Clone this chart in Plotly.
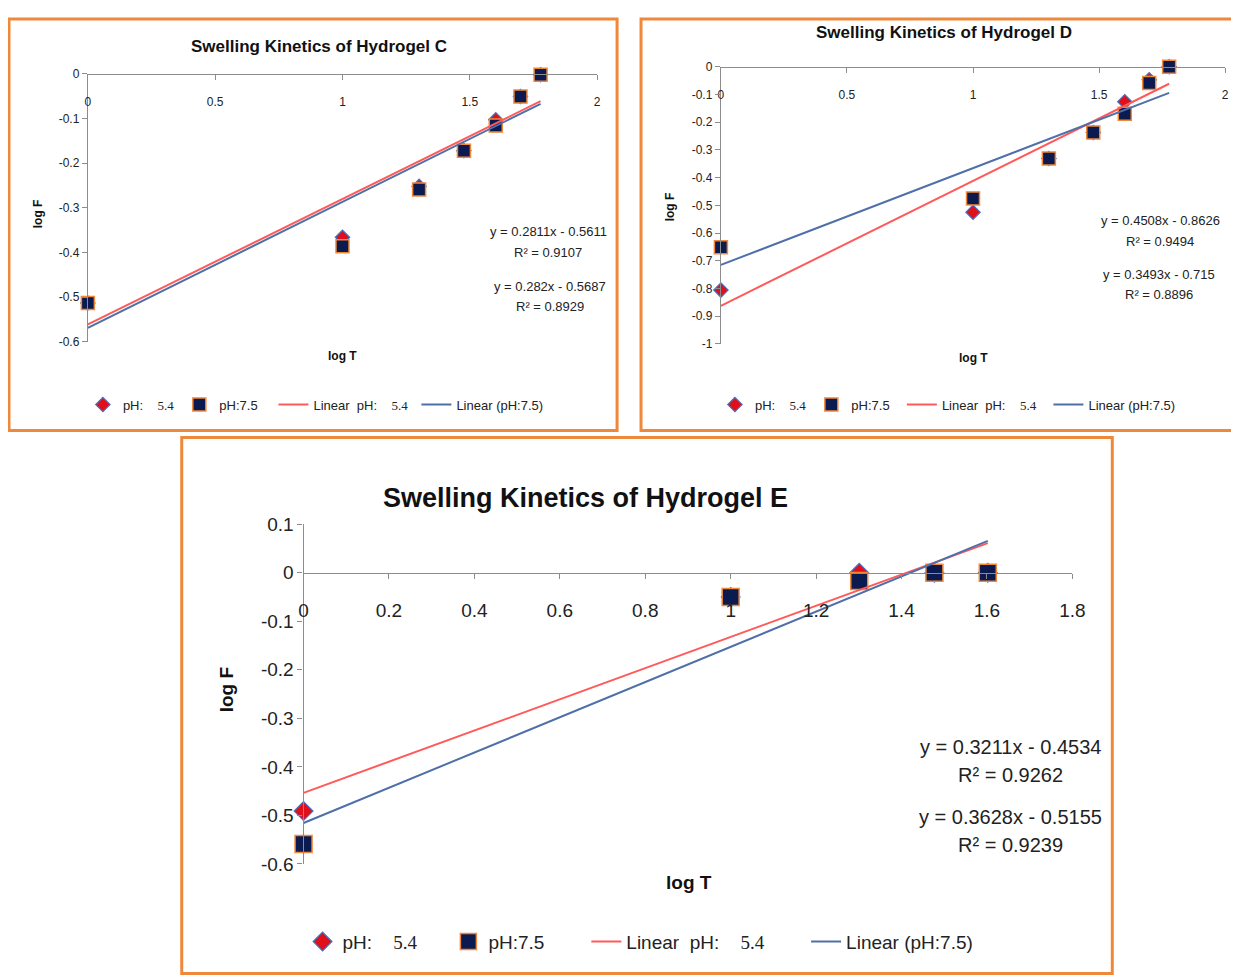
import plotly.graph_objects as go

W, H = 1239, 978
# empirical placement of the figure inside the photographed page
OX, OY, SX, SY = 12.0, 16.0, 0.987, 0.982

# ---------------- data ----------------
# Hydrogel C
c_x = [0, 1, 1.301, 1.477, 1.602, 1.699, 1.778]
c_ph54 = [-0.513, -0.366, -0.252, -0.172, -0.103, -0.051, -0.002]
c_ph75 = [-0.513, -0.386, -0.259, -0.172, -0.116, -0.051, -0.002]
c_fit54 = (0.2811, -0.5611, 0.9107)
c_fit75 = (0.282, -0.5687, 0.8929)
c_xticks = [0, 0.5, 1, 1.5, 2]
c_yticks = [0, -0.1, -0.2, -0.3, -0.4, -0.5, -0.6]

# Hydrogel D
d_x = [0, 1, 1.301, 1.477, 1.602, 1.699, 1.778]
d_ph54 = [-0.806, -0.525, -0.331, -0.237, -0.126, -0.047, 0.0]
d_ph75 = [-0.651, -0.475, -0.331, -0.237, -0.169, -0.058, 0.0]
d_fit54 = (0.4508, -0.8626, 0.9494)
d_fit75 = (0.3493, -0.715, 0.8896)
d_xticks = [0, 0.5, 1, 1.5, 2]
d_yticks = [0, -0.1, -0.2, -0.3, -0.4, -0.5, -0.6, -0.7, -0.8, -0.9, -1]

# Hydrogel E
e_x = [0, 1, 1.301, 1.477, 1.602]
e_ph54 = [-0.491, -0.05, 0.0, 0.0, 0.0]
e_ph75 = [-0.559, -0.05, -0.017, 0.0, 0.0]
e_fit54 = (0.3211, -0.4534, 0.9262)
e_fit75 = (0.3628, -0.5155, 0.9239)
e_xticks = [0, 0.2, 0.4, 0.6, 0.8, 1, 1.2, 1.4, 1.6, 1.8]
e_yticks = [0.1, 0, -0.1, -0.2, -0.3, -0.4, -0.5, -0.6]

FONT = "Liberation Sans Narrow, Liberation Sans, Arial, sans-serif"
SERIF = "Liberation Serif"
RED = "#ff5a5a"
BLUE = "#4f6fa8"
NAVY = "#0b1a4f"
ORANGE = "#f0883a"
AX = "#8c8c8c"


def px(x):
    return ((x - OX) / SX) / W


def py(y):
    return 1 - ((y - OY) / SY) / H


def fmt(v):
    return "%g" % v


SP = "&nbsp;"
NAME54 = "pH:" + SP * 4 + "<span style=\"font-family:%s\">5.4</span>" % SERIF
NAME75 = "pH:7.5"
LIN54 = "Linear" + SP * 2 + "pH:" + SP * 4 + "<span style=\"font-family:%s\">5.4</span>" % SERIF
LIN75 = "Linear (pH:7.5)"

fig = go.Figure()

panels = [
    dict(xs=c_x, a=c_ph54, b=c_ph75, fa=c_fit54, fb=c_fit75,
         xd=(87, 597), yd=(341, 72), xr=[0, 2], yr=[-0.6, 0],
         xt=c_xticks, yt=c_yticks,
         title="Swelling Kinetics of Hydrogel C", title_xy=(318, 45), tsize=17,
         tick=12, ms=13, legy=404, legx=82, lfont=13, pad=[0, 3, 1],
         eq=[(548, 230), (548, 251), (550, 285), (550, 306)], eqsize=13,
         ylab=(37, 212), xlab=(342, 355), labsize=12, stand=12),
    dict(xs=d_x, a=d_ph54, b=d_ph75, fa=d_fit54, fb=d_fit75,
         xd=(721, 1226), yd=(343, 65), xr=[0, 2], yr=[-1, 0],
         xt=d_xticks, yt=d_yticks,
         title="Swelling Kinetics of Hydrogel D", title_xy=(944, 31), tsize=17,
         tick=12, ms=13, legy=404, legx=715, lfont=13, pad=[0, 2, 2],
         eq=[(1161, 219), (1161, 240), (1160, 273), (1160, 293)], eqsize=13,
         ylab=(670, 205), xlab=(974, 357), labsize=12, stand=12),
    dict(xs=e_x, a=e_ph54, b=e_ph75, fa=e_fit54, fb=e_fit75,
         xd=(303, 1073), yd=(865, 524), xr=[0, 1.8], yr=[-0.6, 0.1],
         xt=e_xticks, yt=e_yticks,
         title="Swelling Kinetics of Hydrogel E", title_xy=(585, 498), tsize=27,
         tick=19, ms=17, legy=943, legx=302, lfont=19, pad=[5, 7, 7],
         eq=[(1011, 748), (1011, 776), (1011, 818), (1011, 846)], eqsize=20,
         ylab=(226, 690), xlab=(689, 884), labsize=19, stand=15),
]

shapes = []
annotations = []
boxes = [(8, 17, 617, 430), (641, 17, 1250, 430), (181, 437, 1113, 975)]
for (x0, y0, x1, y1) in boxes:
    shapes.append(dict(type="rect", xref="paper", yref="paper",
                       x0=px(x0), x1=px(x1), y0=py(y1), y1=py(y0),
                       line=dict(color=ORANGE, width=3), layer="below"))

for i, p in enumerate(panels):
    k = "" if i == 0 else str(i + 1)
    xa = "x" + k
    ya = "y" + k
    leg = "legend" + k
    xdom = [px(p["xd"][0]), px(p["xd"][1])]
    ydom = [py(p["yd"][0]), py(p["yd"][1])]
    frac0 = (0 - p["yr"][0]) / (p["yr"][1] - p["yr"][0])
    zero_pos = ydom[0] + frac0 * (ydom[1] - ydom[0])
    pad = p["pad"]

    fig.add_trace(go.Scatter(
        x=p["xs"], y=p["a"], mode="markers", xaxis=xa, yaxis=ya, legend=leg,
        name=NAME54 + SP * pad[0],
        marker=dict(symbol="diamond", size=p["ms"] * 0.85, color="#e0101a",
                    line=dict(color="#4a6fc0", width=1.2)),
        cliponaxis=False))
    fig.add_trace(go.Scatter(
        x=p["xs"], y=p["b"], mode="markers", xaxis=xa, yaxis=ya, legend=leg,
        name=NAME75 + SP * pad[1],
        marker=dict(symbol="square", size=p["ms"], color=NAVY,
                    line=dict(color=ORANGE, width=1.5)),
        cliponaxis=False))
    xmax = max(p["xs"])
    for fit, col, nm in [(p["fa"], RED, LIN54 + SP * pad[2]), (p["fb"], BLUE, LIN75)]:
        m, c, _ = fit
        lx = [0, xmax]
        ly = [m * v + c for v in lx]
        fig.add_trace(go.Scatter(
            x=lx, y=ly, mode="lines", xaxis=xa, yaxis=ya, legend=leg, name=nm,
            line=dict(color=col, width=2), cliponaxis=False))

    fig.update_layout(**{
        "xaxis" + k: dict(domain=xdom, range=p["xr"],
                          tickvals=p["xt"], ticktext=[fmt(v) for v in p["xt"]],
                          anchor="free", position=zero_pos, side="bottom",
                          showgrid=False, zeroline=False, showline=True,
                          linecolor=AX, linewidth=1.2, ticks="outside",
                          ticklen=5, tickcolor=AX,
                          ticklabelstandoff=p["stand"],
                          tickfont=dict(size=p["tick"], color="#222", family=FONT)),
        "yaxis" + k: dict(domain=ydom, range=p["yr"],
                          tickvals=p["yt"], ticktext=[fmt(v) for v in p["yt"]],
                          anchor=xa, showgrid=False, zeroline=False, showline=True,
                          linecolor=AX, linewidth=1.2, ticks="outside",
                          ticklen=5, tickcolor=AX,
                          tickfont=dict(size=p["tick"], color="#222", family=FONT)),
        leg: dict(orientation="h", x=px(p["legx"]), y=py(p["legy"]),
                  xanchor="left", yanchor="middle", bgcolor="rgba(0,0,0,0)",
                  font=dict(size=p["lfont"], color="#222", family=FONT),
                  itemwidth=30, traceorder="normal"),
    })

    annotations.append(dict(text="<b>" + p["title"] + "</b>", xref="paper", yref="paper",
                            x=px(p["title_xy"][0]), y=py(p["title_xy"][1]),
                            showarrow=False, xanchor="center", yanchor="middle",
                            font=dict(size=p["tsize"], color="#111", family=FONT)))
    annotations.append(dict(text="<b>log F</b>", xref="paper", yref="paper",
                            x=px(p["ylab"][0]), y=py(p["ylab"][1]), textangle=-90,
                            showarrow=False, xanchor="center", yanchor="middle",
                            font=dict(size=p["labsize"], color="#111", family=FONT)))
    annotations.append(dict(text="<b>log T</b>", xref="paper", yref="paper",
                            x=px(p["xlab"][0]), y=py(p["xlab"][1]),
                            showarrow=False, xanchor="center", yanchor="middle",
                            font=dict(size=p["labsize"], color="#111", family=FONT)))
    eqtexts = []
    for fit in (p["fa"], p["fb"]):
        m, c, r2 = fit
        eqtexts.append("y = %sx - %s" % (repr(m), repr(abs(c))))
        eqtexts.append("R² = %s" % repr(r2))
    for (ex, ey), t in zip(p["eq"], eqtexts):
        annotations.append(dict(text=t, xref="paper", yref="paper",
                                x=px(ex), y=py(ey), showarrow=False,
                                xanchor="center", yanchor="middle",
                                font=dict(size=p["eqsize"], color="#222", family=FONT)))

fig.update_layout(
    width=W, height=H,
    margin=dict(l=0, r=0, t=0, b=0),
    paper_bgcolor="white", plot_bgcolor="white",
    shapes=shapes, annotations=annotations,
    font=dict(family=FONT),
)

fig.write_html("out.html")
